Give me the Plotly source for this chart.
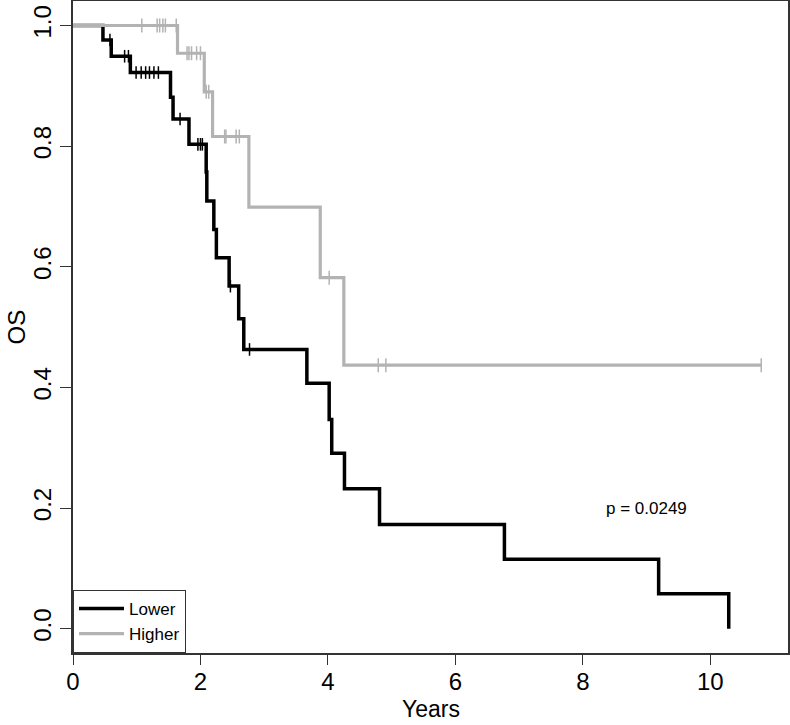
import plotly.graph_objects as go

# ---- data (Kaplan-Meier steps) ----
lower_times = [0, 0.47, 0.60, 0.90, 1.53, 1.57, 1.82, 2.09, 2.10, 2.21, 2.25, 2.45,
               2.60, 2.68, 3.67, 4.02, 4.06, 4.26, 4.81, 6.77, 9.19, 10.29]
lower_surv = [1.0, 0.976, 0.949, 0.922, 0.881, 0.845, 0.803, 0.757, 0.709, 0.662, 0.615,
              0.568, 0.514, 0.463, 0.407, 0.347, 0.291, 0.232, 0.173, 0.115, 0.058, 0.0]
lower_censor = [0.58, 0.81, 0.87, 0.99, 1.07, 1.14, 1.20, 1.27, 1.34, 1.68,
                1.96, 2.00, 2.03, 2.47, 2.77]

higher_times = [0, 1.64, 2.06, 2.19, 2.76, 3.88, 4.25, 10.80]
higher_surv = [1.0, 0.954, 0.890, 0.816, 0.699, 0.582, 0.437, 0.437]
higher_censor = [1.08, 1.32, 1.36, 1.41, 1.45, 1.62, 1.79, 1.82, 1.86, 1.94, 2.00,
                 2.09, 2.13, 2.38, 2.40, 2.56, 2.61, 4.02, 4.79, 4.91, 10.80]

x_ticks = [0, 2, 4, 6, 8, 10]
y_ticks = [0.0, 0.2, 0.4, 0.6, 0.8, 1.0]
y_tick_text = ["0.0", "0.2", "0.4", "0.6", "0.8", "1.0"]
p_label = "p = 0.0249"


def level_at(t, times, surv):
    val = surv[0]
    for ti, si in zip(times, surv):
        if ti <= t:
            val = si
    return val


FONT = "Liberation Sans, Arial, Helvetica, sans-serif"
BLACK = "#000000"
GREY = "#b3b3b3"

fig = go.Figure()

fig.add_trace(go.Scatter(x=lower_times, y=lower_surv, mode="lines", line_shape="hv",
                         line=dict(color=BLACK, width=3.5), name="Lower"))
fig.add_trace(go.Scatter(x=lower_censor,
                         y=[level_at(t, lower_times, lower_surv) for t in lower_censor],
                         mode="markers", showlegend=False, hoverinfo="skip",
                         marker=dict(symbol="line-ns", size=9,
                                     line=dict(color=BLACK, width=1.5))))
fig.add_trace(go.Scatter(x=higher_times, y=higher_surv, mode="lines", line_shape="hv",
                         line=dict(color=GREY, width=3.2), name="Higher"))
fig.add_trace(go.Scatter(x=higher_censor,
                         y=[level_at(t, higher_times, higher_surv) for t in higher_censor],
                         mode="markers", showlegend=False, hoverinfo="skip",
                         marker=dict(symbol="line-ns", size=10,
                                     line=dict(color=GREY, width=1.5))))

fig.add_annotation(x=9, y=0.2, text=p_label, showarrow=False,
                   font=dict(family=FONT, size=17, color="#000"))

# axis titles
fig.add_annotation(x=0.5, y=-0.1087, xref="paper", yref="paper", text="Years",
                   showarrow=False, xanchor="center", yanchor="bottom",
                   font=dict(family=FONT, size=23, color="#000"))
fig.add_annotation(x=-0.1007, y=0.5, xref="paper", yref="paper", text="OS",
                   showarrow=False, xanchor="left", yanchor="middle", textangle=-90,
                   font=dict(family=FONT, size=24, color="#000"))

fig.update_layout(
    width=790, height=725,
    margin=dict(l=73, r=2, t=1, b=72, autoexpand=False),
    paper_bgcolor="white", plot_bgcolor="white",
    font=dict(family=FONT, color="#000"),
    legend=dict(x=0, y=0, xanchor="left", yanchor="bottom",
                bordercolor="#333", borderwidth=1, bgcolor="white",
                font=dict(family=FONT, size=17), tracegroupgap=0, itemwidth=45),
)

fig.update_xaxes(range=[0, 11.22], tickvals=x_ticks, ticks="outside", ticklen=10,
                 tickwidth=1.2, tickcolor="#333", showgrid=False, zeroline=False,
                 showline=True, mirror=True, linecolor="#333", linewidth=1.5,
                 tickfont=dict(family=FONT, size=24), automargin=False,
                 ticklabelstandoff=-4)
fig.update_yaxes(range=[-0.0402, 1.0406], tickvals=y_ticks, ticktext=y_tick_text,
                 tickangle=-90, ticks="outside", ticklen=11, tickwidth=1.2,
                 tickcolor="#333", showgrid=False, zeroline=False,
                 showline=True, mirror=True, linecolor="#333", linewidth=1.5,
                 tickfont=dict(family=FONT, size=24), automargin=False)

fig.write_html("out.html", config={"displayModeBar": False},
               post_script="document.body.style.margin='0';")
